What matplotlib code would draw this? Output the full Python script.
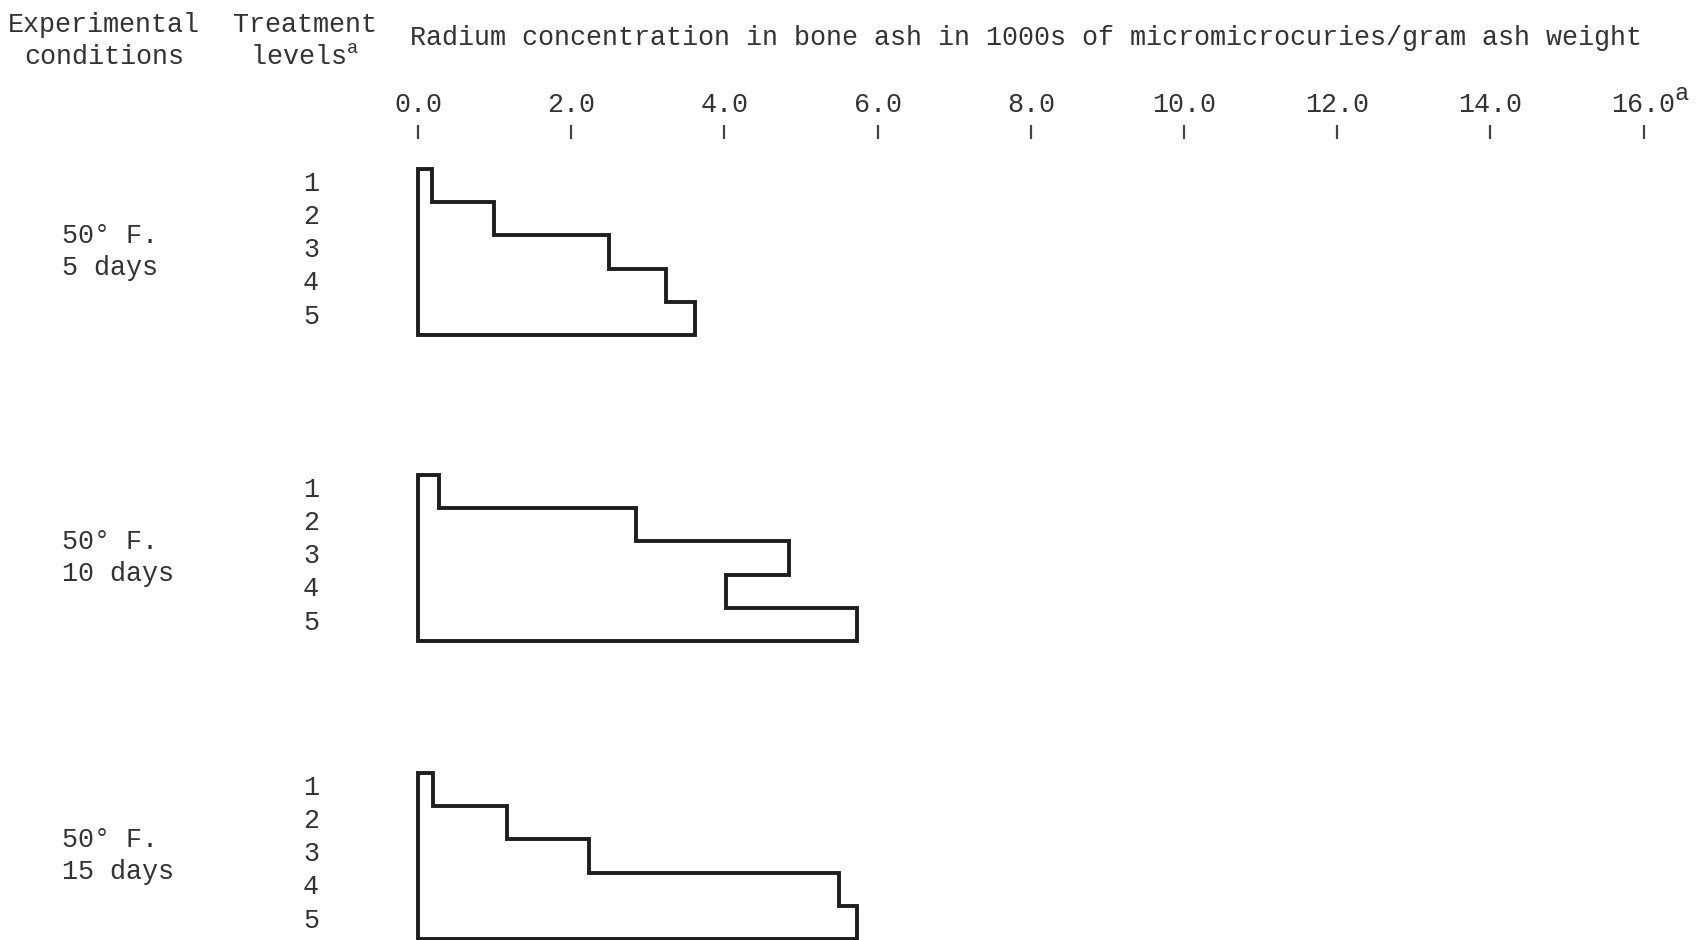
import numpy as np
import matplotlib.pyplot as plt
import matplotlib.transforms as mtransforms

# typewriter look: monospaced font everywhere
plt.rcParams['font.family'] = ['Liberation Mono', 'DejaVu Sans Mono']
plt.rcParams['mathtext.fontset'] = 'custom'
plt.rcParams['mathtext.rm'] = 'Liberation Mono'

# data (1000s of micromicrocuries / gram ash weight)
conditions = ['50° F.\n5 days', '50° F.\n10 days', '50° F.\n15 days']
levels = ['1', '2', '3', '4', '5']
radium_5d = [0.18, 0.99, 2.50, 3.24, 3.62]
radium_10d = [0.27, 2.84, 4.84, 4.02, 5.73]
radium_15d = [0.20, 1.16, 2.23, 5.50, 5.73]
x_ticks = [0, 2, 4, 6, 8, 10, 12, 14, 16]

title = 'Radium concentration in bone ash in 1000s of micromicrocuries/gram ash weight'

W, H = 1701, 940
text_color = '#333333'
line_color = '#1e1e1e'
fs = 19.3

fig = plt.figure(figsize=(W / 100, H / 100), dpi=100)

# x scale: 0.0 at px 418, 16.0 at px 1643
x0 = 418 / W
xw = (1643.5 - 418) / W


def px_box(top, height):
    return [x0, 1 - (top + height) / H, xw, height / H]


# column headers
fig.text(104 / W, 1 - 41 / H, 'Experimental\nconditions', ha='center', va='center',
         fontsize=fs, color=text_color, linespacing=1.28)
fig.text(305 / W, 1 - 41 / H, 'Treatment\nlevels$^{\\mathrm{a}}$', ha='center', va='center',
         fontsize=fs, color=text_color, linespacing=1.28)
fig.text(410 / W, 1 - 38 / H, title, ha='left', va='center', fontsize=fs, color=text_color)

# scale along the top
ax_top = fig.add_axes(px_box(139, 8))
ax_top.set_xlim(0, 16)
ax_top.xaxis.tick_top()
ax_top.set_xticks(x_ticks, [f'{t:.1f}' for t in x_ticks])
ax_top.tick_params(axis='x', direction='out', length=10, width=1.6, pad=5,
                   labelsize=fs, colors='#444444', labelcolor=text_color)
ax_top.set_yticks([])
for s in ax_top.spines.values():
    s.set_visible(False)
ax_top.patch.set_alpha(0)
ax_top.annotate('a', xy=(x_ticks[-1], 1), xycoords=('data', 'axes fraction'),
                xytext=(22, 33), textcoords='offset points', ha='left', va='center',
                fontsize=17, color=text_color)

# one stepped outline per experimental condition
tops = [169, 475, 773]
panel_h = 166
series = [radium_5d, radium_10d, radium_15d]
label_shift = mtransforms.ScaledTranslation(0, 3.5 / 72, fig.dpi_scale_trans)

for top, cond, vals in zip(tops, conditions, series):
    ax = fig.add_axes(px_box(top, panel_h))
    ax.set_xlim(0, 16)
    ax.set_ylim(len(vals), 0)

    rows = np.arange(len(vals))
    xs = [0]
    ys = [0]
    for r, v in zip(rows, vals):
        xs += [v, v]
        ys += [r, r + 1]
    xs += [0]
    ys += [len(vals)]
    ax.fill(xs, ys, facecolor='none', edgecolor=line_color, lw=2.8,
            joinstyle='miter', clip_on=False)

    ax.set_yticks(rows + 0.5, levels)
    ax.tick_params(axis='y', length=0, pad=77, labelsize=fs, labelcolor=text_color)
    for lab in ax.get_yticklabels():
        lab.set_ha('center')
        lab.set_transform(lab.get_transform() + label_shift)
    ax.set_xticks([])
    for s in ax.spines.values():
        s.set_visible(False)
    ax.patch.set_alpha(0)

    fig.text(62 / W, 1 - (top + panel_h / 2) / H, cond, ha='left', va='center',
             fontsize=fs, color=text_color, linespacing=1.28)

fig.savefig('out.png', dpi=100, facecolor='white')
